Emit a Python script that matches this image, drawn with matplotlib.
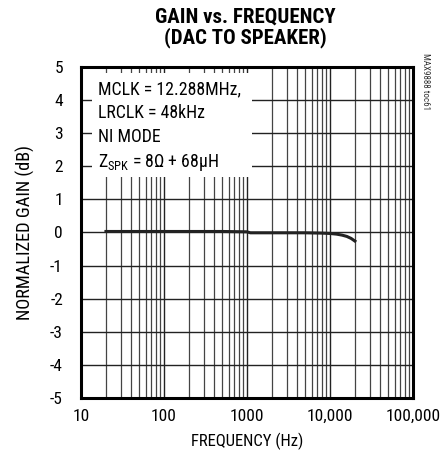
import matplotlib
matplotlib.use('Agg')
import matplotlib.pyplot as plt
from matplotlib.patches import Rectangle
from matplotlib.ticker import FixedLocator, LogLocator, NullFormatter

# gain response, DAC to speaker
freq_hz = [20, 30, 50, 100, 200, 500, 1000, 1100, 2000, 5000, 8000,
           10000, 12000, 14000, 16000, 18000, 20000]
gain_db = [0.03, 0.03, 0.03, 0.03, 0.03, 0.03, 0.02, -0.01, -0.01, -0.01,
           -0.02, -0.03, -0.05, -0.08, -0.12, -0.18, -0.26]

x_ticks = [10, 100, 1000, 10000, 100000]
x_labels = ['10', '100', '1000', '10,000', '100,000']
y_ticks = [-5, -4, -3, -2, -1, 0, 1, 2, 3, 4, 5]

plt.rcParams['font.family'] = ['Roboto Condensed', 'DejaVu Sans']
plt.rcParams['font.stretch'] = 'condensed'
plt.rcParams['mathtext.fontset'] = 'custom'
plt.rcParams['mathtext.rm'] = 'Roboto Condensed'

fig = plt.figure(figsize=(4.4, 4.63), dpi=100)
ax = fig.add_axes([0.184, 0.1404, 0.7545, 0.715])

ax.set_xscale('log')
ax.set_xlim(10, 100000)
ax.set_ylim(-5, 5)

ax.xaxis.set_major_locator(FixedLocator(x_ticks))
ax.set_xticklabels(x_labels)
ax.xaxis.set_minor_locator(LogLocator(base=10, subs=range(2, 10)))
ax.xaxis.set_minor_formatter(NullFormatter())
ax.set_yticks(y_ticks)
ax.set_yticklabels([str(v) for v in y_ticks])

ax.grid(True, which='major', color='#222222', linewidth=1.0)
ax.grid(True, which='minor', axis='x', color='#444444', linewidth=0.9)
ax.tick_params(which='both', length=0, labelsize=12.5)
ax.tick_params(axis='x', pad=8)
ax.tick_params(axis='y', pad=13)
for s in ax.spines.values():
    s.set_linewidth(2.2)

ax.plot(freq_hz, gain_db, color='#222222', linewidth=2.2, zorder=3)

# white panel for the test conditions, covering the grid
ax.add_patch(Rectangle((0.033, 0.668), 0.482, 0.314, transform=ax.transAxes,
                       facecolor='white', edgecolor='none', zorder=2))
note = ('MCLK = 12.288MHz,\nLRCLK = 48kHz\nNI MODE\n'
        r'Z$_{\mathrm{SPK}}$ = 8$\Omega$ + 68$\mathrm{\mu}$H')
ax.text(0.051, 0.958, note, transform=ax.transAxes, fontsize=12.8,
        va='top', ha='left', linespacing=1.4, zorder=4)

ax.set_xlabel('FREQUENCY (Hz)', fontsize=12, labelpad=6)
ax.set_ylabel('NORMALIZED GAIN (dB)', fontsize=13.2, labelpad=11)

fig.text(0.557, 0.983, 'GAIN vs. FREQUENCY\n(DAC TO SPEAKER)', ha='center',
         va='top', fontsize=15, fontweight='bold', linespacing=1.0)
fig.text(0.966, 0.886, 'MAX9888 toc61', rotation=270, ha='center', va='top',
         fontsize=6.5, color='#333333')

fig.savefig('out.png', dpi=100)
